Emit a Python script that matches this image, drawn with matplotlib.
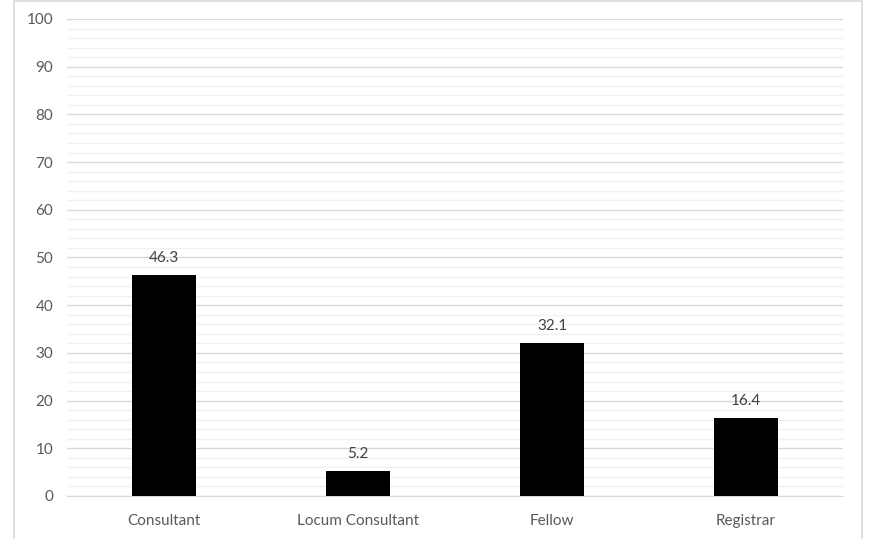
import matplotlib
matplotlib.use("Agg")
import matplotlib.pyplot as plt
from matplotlib.patches import Rectangle
from matplotlib.ticker import MultipleLocator

categories = ["Consultant", "Locum Consultant", "Fellow", "Registrar"]
values = [46.3, 5.2, 32.1, 16.4]

plt.rcParams["font.family"] = ["Lato", "DejaVu Sans"]
text_color = "#595959"

fig = plt.figure(figsize=(8.71, 5.39), dpi=100)
ax = fig.add_axes([0.077, 0.0798, 0.891, 0.885])

# outer chart frame
fig.patches.append(Rectangle((14 / 871, -0.01), (862 - 14) / 871, 1.008,
                             transform=fig.transFigure, fill=False,
                             edgecolor="#d9d9d9", linewidth=1.2))

x = range(len(categories))
ax.bar(x, values, width=0.33, color="black", zorder=3)
for xi, v in zip(x, values):
    ax.annotate(f"{v:.1f}", (xi, v), xytext=(0, 7), textcoords="offset points",
                ha="center", va="bottom", fontsize=11, color="#404040")

ax.set_xlim(-0.5, len(categories) - 0.5)
ax.set_ylim(0, 100)
ax.yaxis.set_major_locator(MultipleLocator(10))
ax.yaxis.set_minor_locator(MultipleLocator(2))
ax.grid(axis="y", which="major", color="#d9d9d9", linewidth=1.0, zorder=0)
ax.grid(axis="y", which="minor", color="#f0f0f0", linewidth=1.0, zorder=0)
ax.set_xticks(list(x))
ax.set_xticklabels(categories)
ax.tick_params(axis="both", which="both", length=0, labelsize=11,
               colors=text_color, pad=10)
ax.tick_params(axis="x", pad=13)
for side in ["top", "right", "left"]:
    ax.spines[side].set_visible(False)
ax.spines["bottom"].set_color("#d9d9d9")

fig.savefig("out.png", dpi=100)
